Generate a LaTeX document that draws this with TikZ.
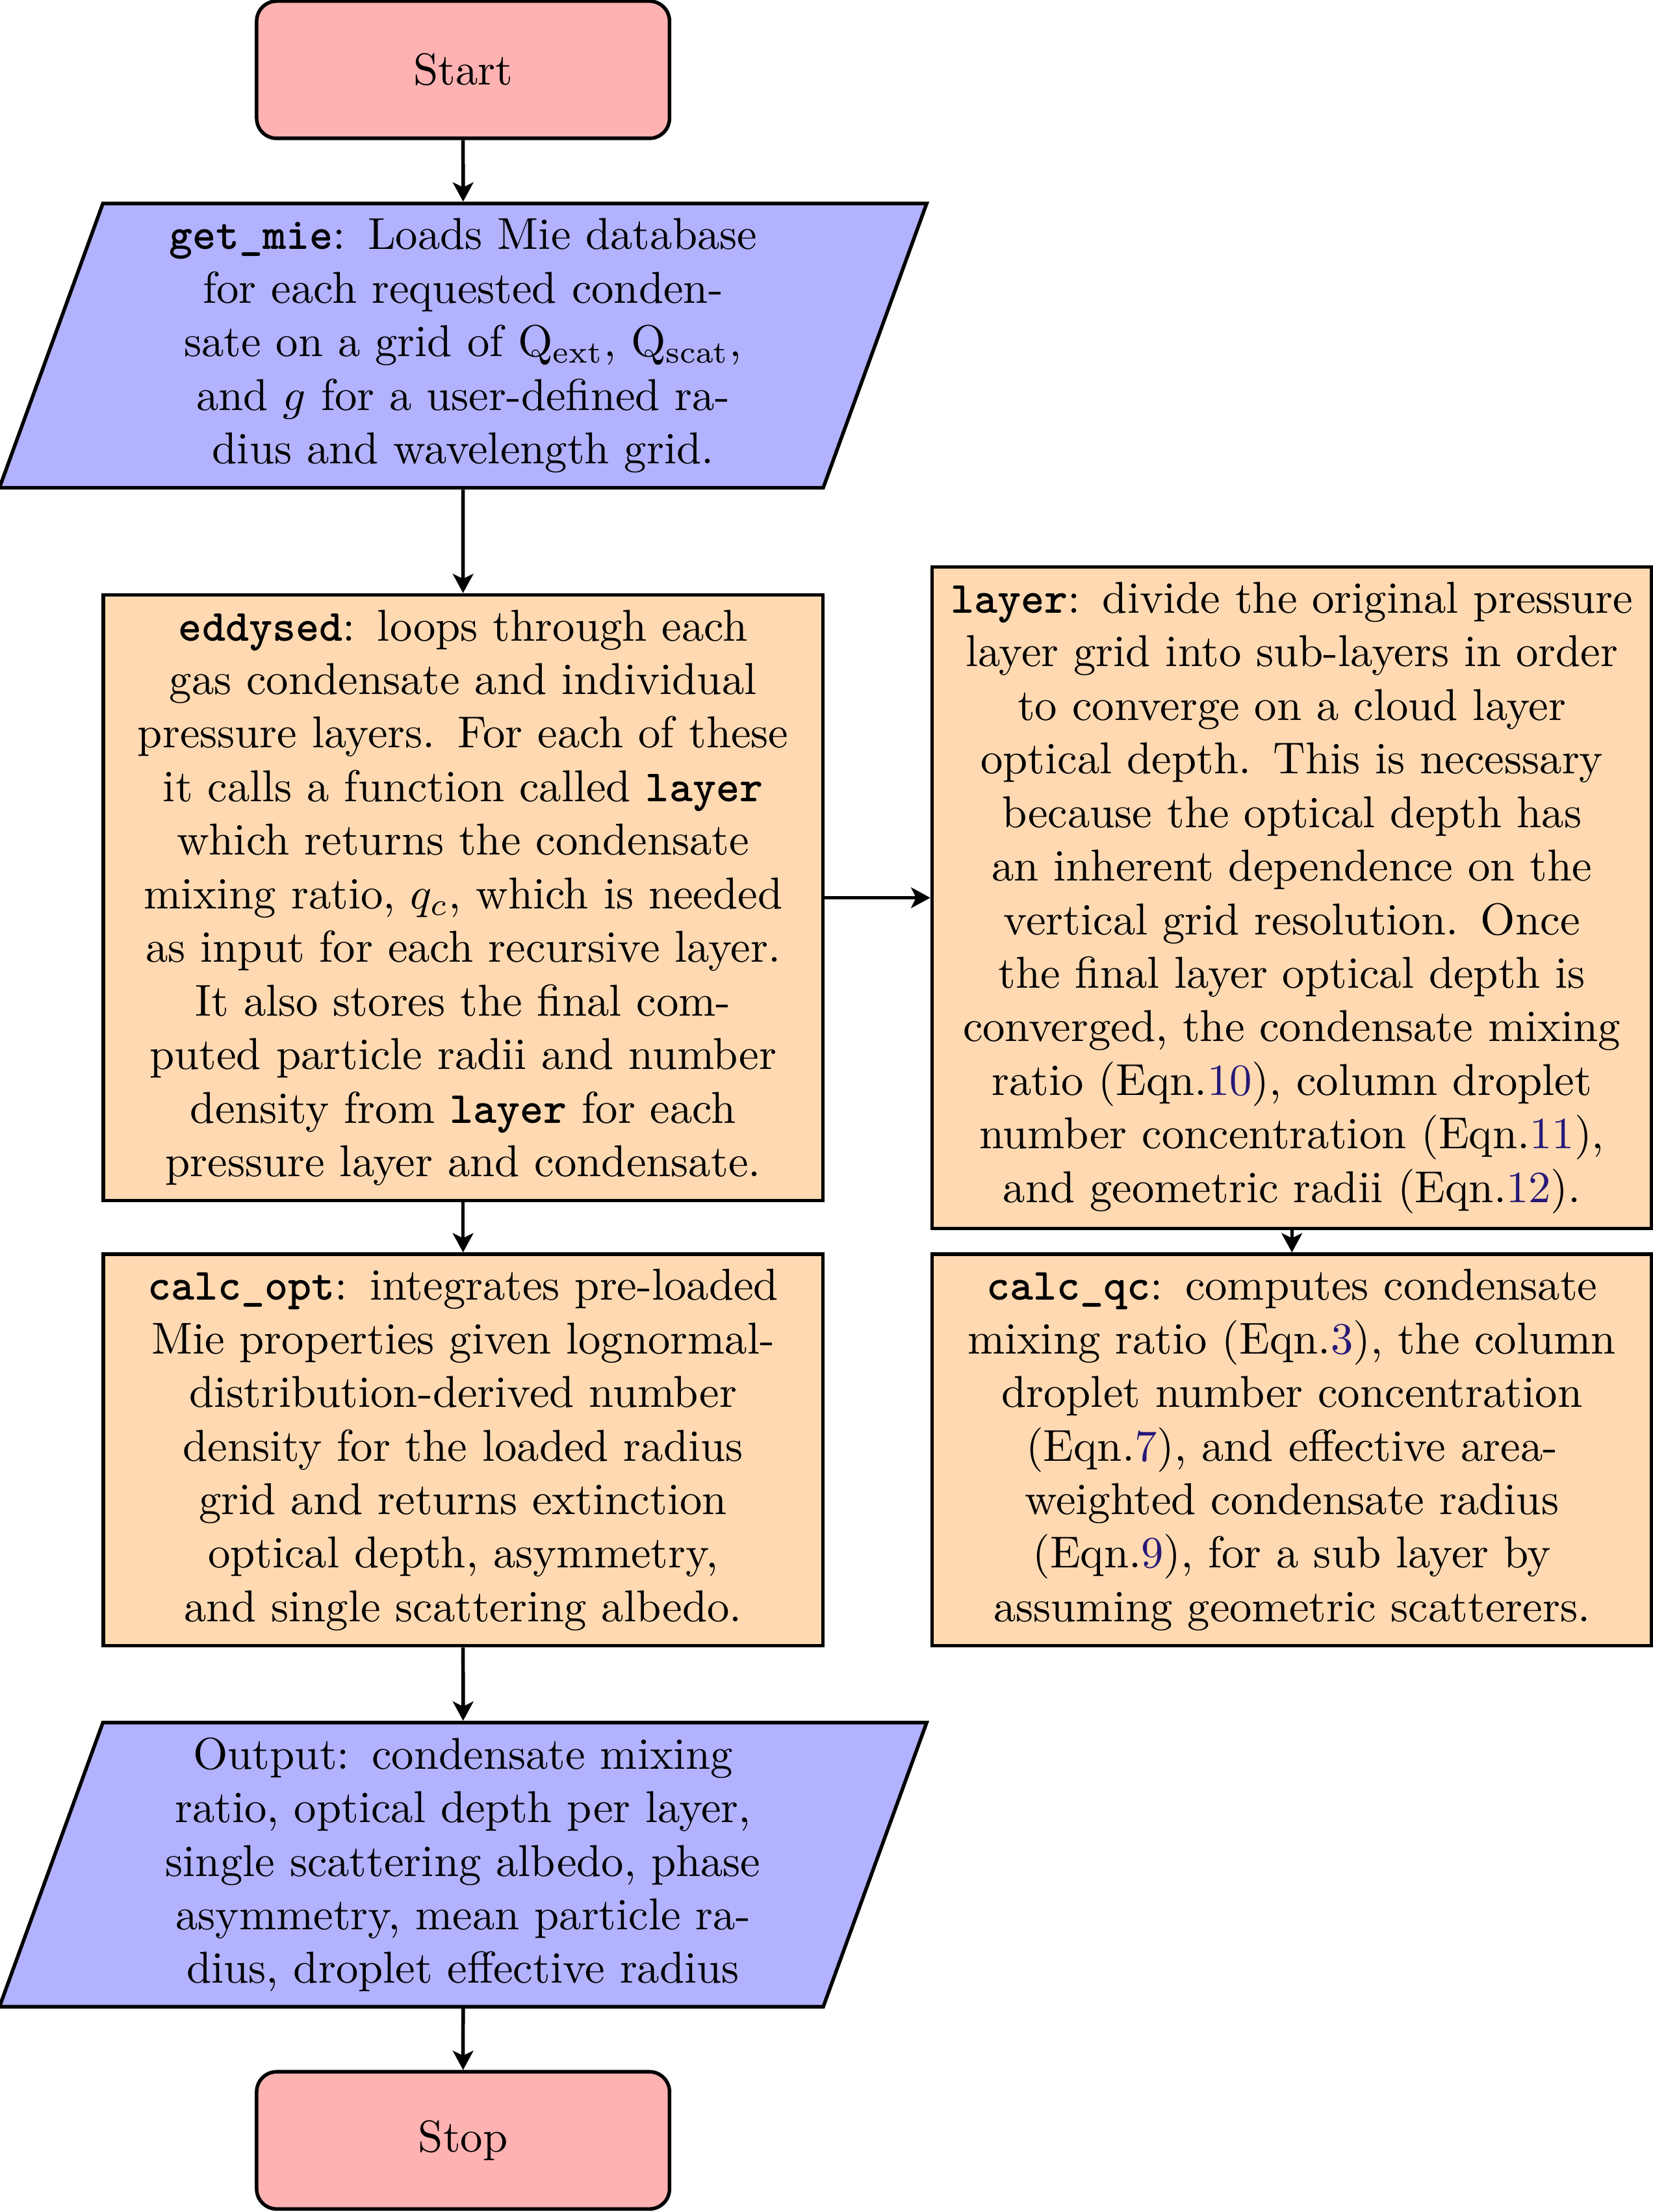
\documentclass[tikz,border=0pt]{standalone}
\usepackage{amsmath}
\usepackage{tikz}
\usetikzlibrary{arrows.meta,shapes,positioning,calc}
\definecolor{eqnblue}{RGB}{38,24,120}
\newcommand{\eqnref}[1]{\textcolor{eqnblue}{#1}}
\newcommand{\fname}[1]{\texttt{\textbf{#1}}}

\begin{document}
\begin{tikzpicture}[>={Stealth[length=4.3pt,width=4.6pt,inset=1.1pt]},
  startstop/.style={draw,thick,rounded corners=4.5pt,fill=red!30,minimum width=3.25cm,minimum height=1.08cm},
  io/.style={draw,thick,trapezium,trapezium left angle=70,trapezium right angle=110,fill=blue!30,text width=4.75cm,align=center,inner xsep=0.46cm},
  procbox/.style={draw,thick,fill=orange!30,text width=5.43cm,align=center},
  flow/.style={->,thick}]
  \useasboundingbox (0,0) rectangle (13.01,-17.41);
  % left column
  \node[startstop] (start) at (3.645,-0.549) {Start};
  \node[io] (getmie) at (3.645,-2.72) {\fname{get\_mie}: Loads Mie database\\ for each requested conden-\\sate on a grid of $\mathrm{Q_{ext}}$, $\mathrm{Q_{scat}}$,\\ and $g$ for a user-defined ra-\\dius and wavelength grid.};
  \node[procbox] (eddysed) at (3.645,-7.066) {\fname{eddysed}: loops through each gas condensate and individual pressure layers. For each of these it calls a function called \fname{layer} which returns the condensate mixing ratio, $q_c$, which is needed as input for each recursive layer. It also stores the final computed particle radii and number density from \fname{layer} for each pressure layer and condensate.};
  \node[procbox] (calcopt) at (3.645,-11.412) {\fname{calc\_opt}: integrates pre-loaded Mie properties given lognormal-distribution-derived number density for the loaded radius grid and returns extinction optical depth, asymmetry, and single scattering albedo.};
  \node[io] (output) at (3.645,-14.676) {Output: condensate mixing\\ ratio, optical depth per layer,\\ single scattering albedo, phase\\ asymmetry, mean particle ra-\\dius, droplet effective radius};
  \node[startstop] (stop) at (3.645,-16.846) {Stop};
  % right column
  \node[procbox] (layer) at (10.169,-7.066) {\fname{layer}: divide the original pressure layer grid into sub-layers in order to converge on a cloud layer optical depth. This is necessary because the optical depth has an inherent dependence on the vertical grid resolution. Once the final layer optical depth is converged, the condensate mixing ratio (Eqn.\eqnref{10}), column droplet number concentration (Eqn.\eqnref{11}), and geometric radii (Eqn.\eqnref{12}).};
  \node[procbox] (calcqc) at (10.169,-11.412) {\fname{calc\_qc}: computes condensate mixing ratio (Eqn.\eqnref{3}), the column droplet number concentration (Eqn.\eqnref{7}), and effective area-weighted condensate radius (Eqn.\eqnref{9}), for a sub layer by assuming geometric scatterers.};
  % arrows
  \draw[flow] (start) -- (getmie);
  \draw[flow] (getmie) -- (eddysed);
  \draw[flow] (eddysed) -- (calcopt);
  \draw[flow] (calcopt) -- (output);
  \draw[flow] (output) -- (stop);
  \draw[flow] (eddysed) -- (layer);
  \draw[flow] (layer) -- (calcqc);
\end{tikzpicture}
\end{document}
